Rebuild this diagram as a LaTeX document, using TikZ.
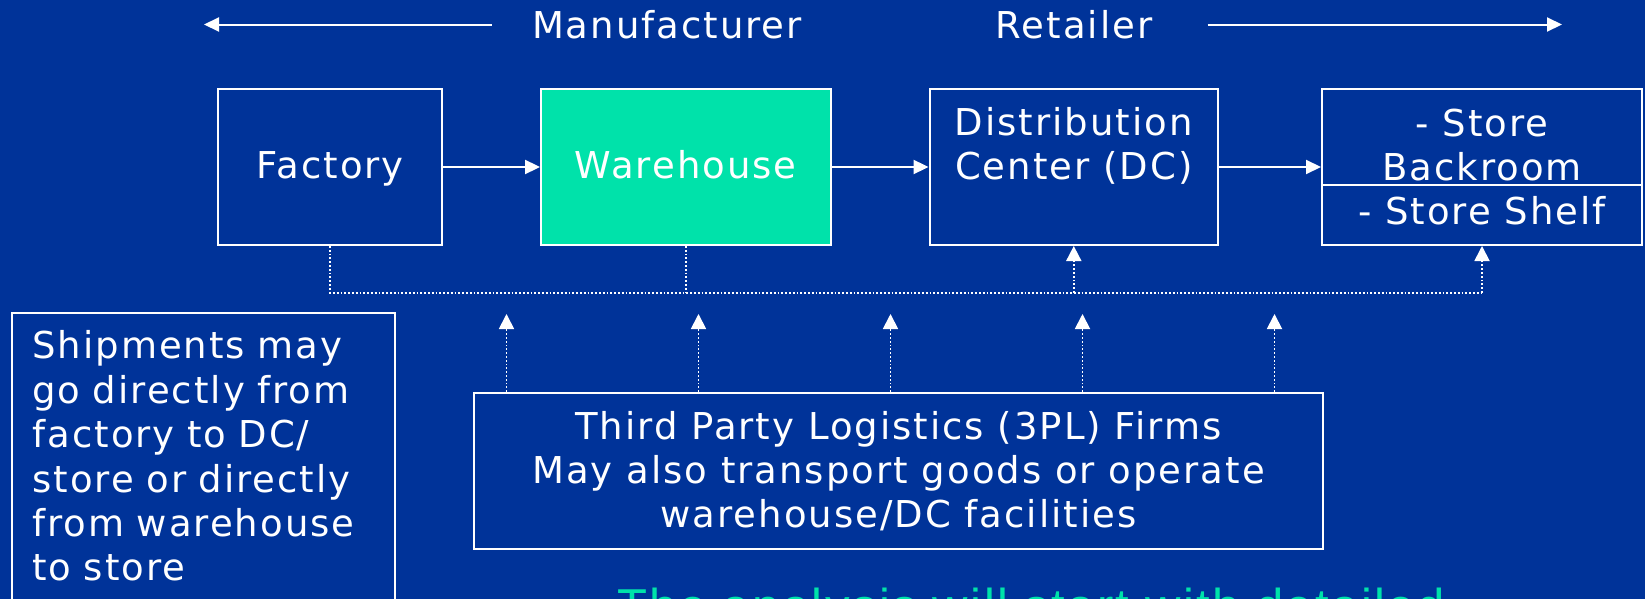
\documentclass[tikz,border=0pt]{standalone}
\usepackage{fontspec}
\setmainfont{DejaVu Sans}[LetterSpace=5.4]
\newfontfamily\remarkfont{Liberation Sans}[LetterSpace=5]
\usetikzlibrary{arrows.meta}
\definecolor{slideblue}{RGB}{0,51,153}
\definecolor{slidegreen}{RGB}{0,226,170}
\newlength\pxw
\setlength\pxw{0.5pt}

\begin{document}
\begin{tikzpicture}[x=0.5pt, y=-0.5pt,
    every node/.style={font=\fontsize{18.5}{22}\selectfont, text=white},
    box/.style={draw=white, line width=1pt, minimum height=156\pxw, align=center, inner sep=0pt},
    flow/.style={white, line width=1pt, -{Triangle[length=7.5pt, width=7pt]}},
    dots/.style={white, line width=0.9pt, dash pattern=on 0.9pt off 1pt},
    dotflow/.style={dots, -{Triangle[length=7.5pt, width=7.5pt]}}]
    % Background
    \useasboundingbox (0,0) rectangle (1645,599);
    \clip (0,0) rectangle (1645,599);
    \fill[slideblue] (0,0) rectangle (1645,599);

    % Manufacturer / Retailer
    \node[anchor=base, inner sep=0pt] (mfr) at (667,38.3) {Manufacturer};
    \node[anchor=base, inner sep=0pt] (ret) at (1074,38.3) {Retailer};
    \coordinate (mfrend) at (204,0);
    \coordinate (retend) at (1562,0);
    \draw[flow] ([xshift=-40\pxw]mfr.west) -- (mfr.west -| mfrend);
    \draw[flow] ([xshift=55\pxw]ret.east) -- (ret.east -| retend);

    % Chain
    \node[box, minimum width=224.5\pxw, text height=15pt, text depth=4pt] (factory) at (330.2,167) {Factory};
    \node[box, fill=slidegreen, minimum width=289.5\pxw, text height=15pt, text depth=4pt] (warehouse) at (685.8,167) {Warehouse};
    \node[box, minimum width=288.5\pxw] (dc) at (1073.8,167) {Distribution\\Center (DC)\rule[-48\pxw]{0pt}{1\pxw}};
    \node[box, minimum width=320\pxw] (store) at (1482,167) {- Store\\Backroom\\- Store Shelf};
    \draw[white, line width=1pt] (store.west |- 0,185) -- (store.east |- 0,185);
    \draw[flow] (factory) -- (warehouse);
    \draw[flow] (warehouse) -- (dc);
    \draw[flow] (dc) -- (store);

    % Dotted links
    \coordinate (bus) at (0,292.7);
    \draw[dots] (factory.south) -- (factory.south |- bus) -- (store.south |- bus);
    \draw[dots] (warehouse.south) -- (warehouse.south |- bus);
    \draw[dotflow] (dc.south |- bus) -- (dc.south);
    \draw[dotflow] (store.south |- bus) -- (store.south);

    % 3PL
    \node[box, minimum width=849\pxw] (tpl) at (898.5,471) {Third Party Logistics (3PL) Firms\\May also transport goods or operate\\warehouse/DC facilities};
    \foreach \x [count=\i] in {506.5,698.5,890.5,1082.5,1274.5} {
        \coordinate (up\i) at (\x,314);
        \draw[dotflow] (tpl.north -| up\i) -- (up\i);
    }

    % Side note
    \node[draw=white, line width=1pt, anchor=north west, text width=341.5\pxw, align=left,
        inner xsep=21\pxw, inner ysep=18\pxw, font=\fontsize{18.5}{22.2}\selectfont] (note) at (10.5,311.7)
        {Shipments may\\go directly from\\factory to DC/\\store or directly\\from warehouse\\to store\rule[-40\pxw]{0pt}{1\pxw}};

    % Remark, cut off by the slide edge
    \node[anchor=base west, inner sep=0pt, text=slidegreen, font=\remarkfont\fontsize{24.5}{29}\selectfont] (remark) at (617,623) {The analysis will start with detailed};
\end{tikzpicture}
\end{document}
